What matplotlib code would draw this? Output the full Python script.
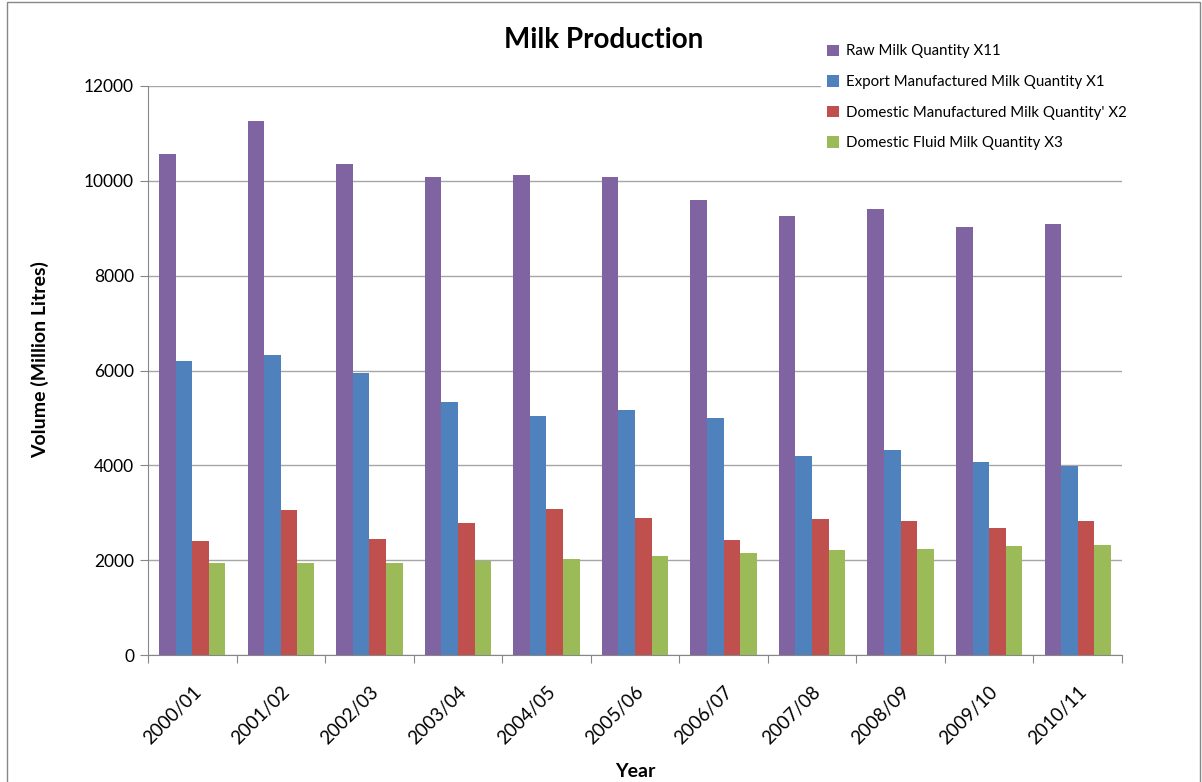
import numpy as np
import matplotlib.pyplot as plt
from matplotlib.patches import Rectangle

plt.rcParams['font.family'] = ['Lato', 'DejaVu Sans']

# Data
years = ["2000/01", "2001/02", "2002/03", "2003/04", "2004/05", "2005/06",
         "2006/07", "2007/08", "2008/09", "2009/10", "2010/11"]
raw_milk = [10560, 11270, 10350, 10080, 10130, 10090, 9590, 9250, 9400, 9020, 9100]
export_manuf = [6210, 6320, 5940, 5330, 5050, 5160, 4990, 4190, 4330, 4080, 3980]
domestic_manuf = [2410, 3050, 2440, 2780, 3070, 2880, 2430, 2860, 2820, 2670, 2820]
domestic_fluid = [1930, 1930, 1930, 1990, 2020, 2080, 2160, 2210, 2230, 2290, 2310]

series = [
    ("Raw Milk Quantity X11", raw_milk, "#8064A2"),
    ("Export Manufactured Milk Quantity X1", export_manuf, "#4F81BD"),
    ("Domestic Manufactured Milk Quantity' X2", domestic_manuf, "#C0504D"),
    ("Domestic Fluid Milk Quantity X3", domestic_fluid, "#9BBB59"),
]

W, H = 1202, 782
fig = plt.figure(figsize=(W / 100, H / 100), dpi=100)
ax = fig.add_axes([148 / W, 1 - 655 / H, (1122 - 148) / W, (655 - 86) / H])

x = np.arange(len(years))
bw = 0.1875
for i, (name, vals, col) in enumerate(series):
    ax.bar(x + (i - 1.5) * bw, vals, width=bw, color=col, label=name, zorder=2)

ax.set_xlim(-0.5, len(years) - 0.5)
ax.set_ylim(0, 12000)
ax.set_yticks(range(0, 12001, 2000))
ax.yaxis.grid(True, color="#A6A6A6", linewidth=1, zorder=0)
ax.set_axisbelow(True)

# ticks between categories, labels centred on categories
ax.set_xticks(np.arange(-0.5, len(years)), minor=False)
ax.set_xticklabels([])
ax.set_xticks(x, minor=True)
ax.set_xticklabels(years, minor=True, rotation=45, ha="right",
                   rotation_mode="anchor", fontsize=13.5)
ax.tick_params(axis="x", which="minor", length=0, pad=20)
ax.tick_params(axis="x", which="major", length=6, color="#878787")
ax.tick_params(axis="y", length=6, color="#878787", labelsize=12.5, pad=4)

for s in ["top", "right"]:
    ax.spines[s].set_visible(False)
for s in ["left", "bottom"]:
    ax.spines[s].set_color("#878787")

ax.set_xlabel("Year", fontsize=14, fontweight="bold", labelpad=0)
ax.xaxis.set_label_coords(0.5, -0.19)
ax.set_ylabel("Volume (Million Litres)", fontsize=14, fontweight="bold")
ax.yaxis.set_label_coords(-0.102, 0.52)

fig.text(604 / W, 1 - 40 / H, "Milk Production", fontsize=20, fontweight="bold",
         ha="center", va="center")

leg = fig.legend(loc="upper left", bbox_to_anchor=(813 / W, 1 - 31 / H),
                 frameon=True, fontsize=10.8, handlelength=0.8, handleheight=0.8,
                 handletextpad=0.5, labelspacing=1.1, borderpad=0.4)
leg.get_frame().set_edgecolor("white")
leg.get_frame().set_facecolor("white")
leg.get_frame().set_alpha(1)

# outer chart border
fig.patches.append(Rectangle((7 / W, -0.05), (1200 - 7) / W, 1.05 - 2 / H,
                             transform=fig.transFigure, fill=False,
                             edgecolor="#878787", linewidth=1))

fig.savefig("out.png", dpi=100)
